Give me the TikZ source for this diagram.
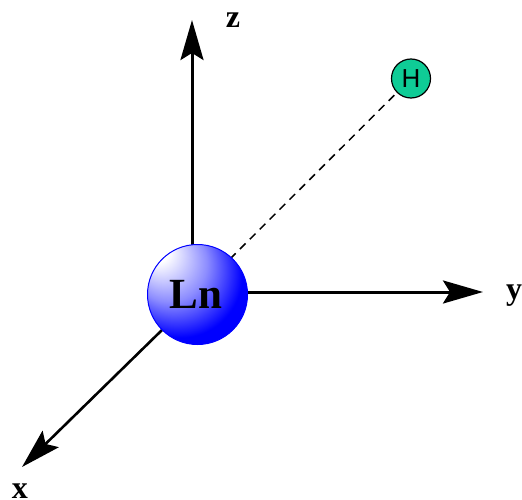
\documentclass[tikz,border=0pt]{standalone}
\usepackage{fontspec}
\setmainfont{Liberation Serif}
\newfontfamily\hfont{Liberation Sans}
\usetikzlibrary{arrows.meta}
\definecolor{hgreen}{RGB}{15,204,150}
\pgfdeclareradialshading{lnball}{\pgfpoint{-23bp}{25bp}}{
  color(0bp)=(white);
  color(6bp)=(white);
  color(19bp)=(white!55!blue);
  color(31bp)=(blue);
  color(50bp)=(blue)
}
\tikzset{
  axis/.style={line width=3pt,-{Stealth[length=40pt,width=23pt,inset=7pt]}},
  axisx/.style={line width=2.6pt,-{Stealth[length=40pt,width=23pt,inset=7pt]}},
  lbl/.style={font=\bfseries\fontsize{32}{32}\selectfont,inner sep=0pt},
  atomLn/.style={circle,draw=blue,line width=1pt,minimum size=100pt,inner sep=0pt,outer sep=0pt,shading=lnball,font=\bfseries\fontsize{43}{43}\selectfont},
  atomH/.style={circle,draw=black,line width=1.2pt,fill=hgreen,minimum size=39pt,inner sep=0pt,font=\hfont\fontsize{26}{26}\selectfont},
}
\begin{document}
\begin{tikzpicture}[x=1pt,y=-1pt]
\useasboundingbox (0,0) rectangle (522,500);
\coordinate (zs) at (192,250);
\coordinate (zt) at (192,20);
\coordinate (ys) at (240,292);
\coordinate (yt) at (483,292);
\coordinate (xs) at (162,330);
\coordinate (xt) at (22,467);
\node[atomH] (h) at (411,78.5) {H};
\coordinate (ls) at (230,259);
\draw[line width=1.5pt,dash pattern=on 8pt off 6pt] (ls) -- (h);
\draw[axis] (zs) -- (zt);
\draw[axis] (ys) -- (yt);
\draw[axisx] (xs) -- (xt);
\node[atomLn] (ln) at (197.5,294.5) {Ln\kern3.5pt};
\node[lbl] (zl) at (233,20) {z};
\node[lbl] (yl) at (514,296) {y};
\node[lbl,anchor=base] (xl) at (20,498) {x};
\end{tikzpicture}
\end{document}
